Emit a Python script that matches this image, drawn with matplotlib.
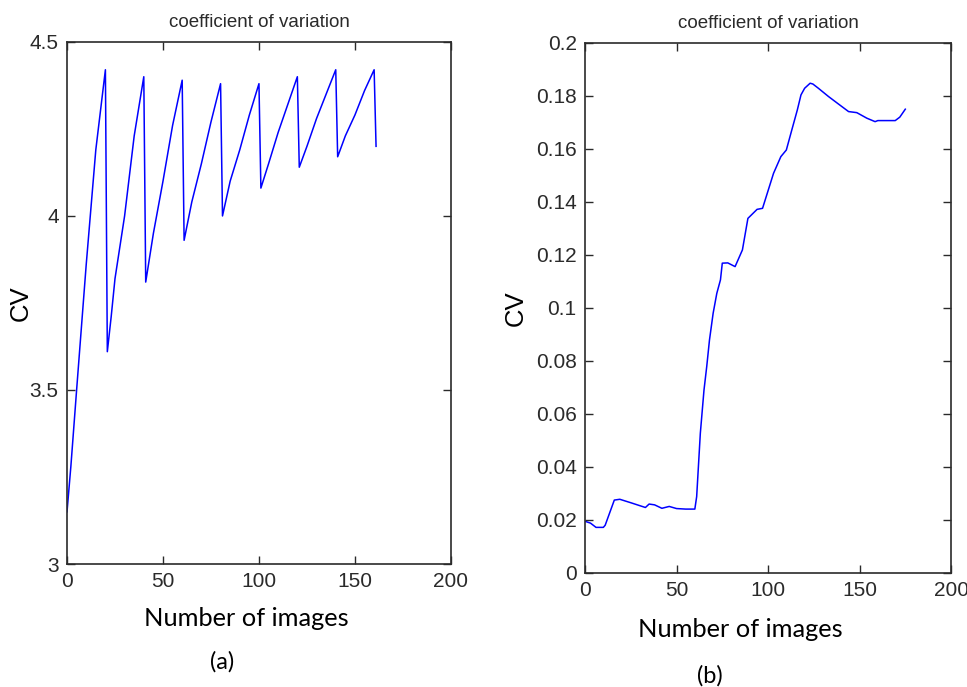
import matplotlib
matplotlib.use("Agg")
import matplotlib.pyplot as plt

# (a) CV per number of images, sawtooth run
a_images = [0, 2, 5, 10, 15, 20,
            21, 23, 25, 30, 35, 40,
            41, 45, 50, 55, 60,
            61, 65, 70, 75, 80,
            81, 85, 90, 95, 100,
            101, 105, 110, 115, 120,
            121, 125, 130, 135, 140,
            141, 145, 150, 155, 160,
            161]
a_cv = [3.15, 3.28, 3.50, 3.86, 4.19, 4.42,
        3.61, 3.71, 3.82, 4.00, 4.23, 4.40,
        3.81, 3.95, 4.10, 4.26, 4.39,
        3.93, 4.04, 4.15, 4.27, 4.38,
        4.00, 4.10, 4.19, 4.29, 4.38,
        4.08, 4.15, 4.24, 4.32, 4.40,
        4.14, 4.20, 4.28, 4.35, 4.42,
        4.17, 4.23, 4.29, 4.36, 4.42,
        4.20]

# (b) CV per number of images
b_images = [0, 3, 6, 10, 11, 16, 19, 25, 33, 35, 38, 42, 46, 50, 55, 60,
            61, 63, 65, 66.5, 68, 70, 72, 74, 75, 78, 82, 86, 89, 94, 97,
            103, 107, 110, 113, 116, 118, 120, 123, 124.5, 127.5, 133, 138,
            144, 148.5, 154, 158.5, 160, 169.5, 172, 175]
b_cv = [0.0195, 0.0188, 0.0172, 0.0172, 0.018, 0.0275, 0.0278, 0.0265,
        0.0247, 0.026, 0.0257, 0.0244, 0.0251, 0.0243, 0.0241, 0.0241,
        0.0288, 0.0527, 0.069, 0.0779, 0.0879, 0.098, 0.1055, 0.1106,
        0.1169, 0.117, 0.1156, 0.1219, 0.1338, 0.1372, 0.1376, 0.1508,
        0.1571, 0.1596, 0.1672, 0.1747, 0.1804, 0.1829, 0.1848, 0.1845,
        0.1829, 0.1798, 0.1772, 0.1741, 0.1737, 0.1716, 0.1703, 0.1707,
        0.1707, 0.172, 0.175]

x_ticks = [0, 50, 100, 150, 200]
a_yticks = [3, 3.5, 4, 4.5]
a_ylabels = ["3", "3.5", "4", "4.5"]
b_yticks = [0, 0.02, 0.04, 0.06, 0.08, 0.1, 0.12, 0.14, 0.16, 0.18, 0.2]
b_ylabels = ["0", "0.02", "0.04", "0.06", "0.08", "0.1", "0.12", "0.14",
             "0.16", "0.18", "0.2"]

plt.rcParams["font.family"] = ["Liberation Sans", "DejaVu Sans"]
label_font = ["Lato", "DejaVu Sans"]
ink = "#2a2a2a"

fig = plt.figure(figsize=(9.67, 6.87), dpi=100)
ax_a = fig.add_axes([0.0693, 0.179, 0.397, 0.760])
ax_b = fig.add_axes([0.605, 0.166, 0.3785, 0.7715])


def style(ax, yticks, ylabels, ylim, cv_pad):
    ax.set_xlim(0, 200)
    ax.set_ylim(*ylim)
    ax.set_xticks(x_ticks)
    ax.set_xticklabels([str(t) for t in x_ticks])
    ax.set_yticks(yticks)
    ax.set_yticklabels(ylabels)
    ax.tick_params(direction="in", length=6, width=1.0, top=True, right=True,
                   labelsize=15, colors=ink, pad=6)
    for s in ax.spines.values():
        s.set_linewidth(1.2)
        s.set_color(ink)
    ax.set_title("coefficient of variation", fontsize=13.5, color=ink, pad=11)
    ax.set_ylabel("CV", fontsize=18.5, color="black", labelpad=cv_pad)
    ax.set_xlabel("Number of images", fontsize=18.3, family=label_font,
                  color="black")


ax_a.plot(a_images, a_cv, color="#0000ff", linewidth=1.1)
style(ax_a, a_yticks, a_ylabels, (3, 4.5), -2)
ax_a.xaxis.set_label_coords(0.466, -0.083)

ax_b.plot(b_images, b_cv, color="#0000ff", linewidth=1.1)
style(ax_b, b_yticks, b_ylabels, (0, 0.2), 6)
ax_b.xaxis.set_label_coords(0.4235, -0.085)

fig.text(0.230, 0.036, "(a)", fontsize=17, family=label_font, ha="center",
         va="center", color="black")
fig.text(0.734, 0.017, "(b)", fontsize=17, family=label_font, ha="center",
         va="center", color="black")

fig.savefig("out.png", dpi=100)
